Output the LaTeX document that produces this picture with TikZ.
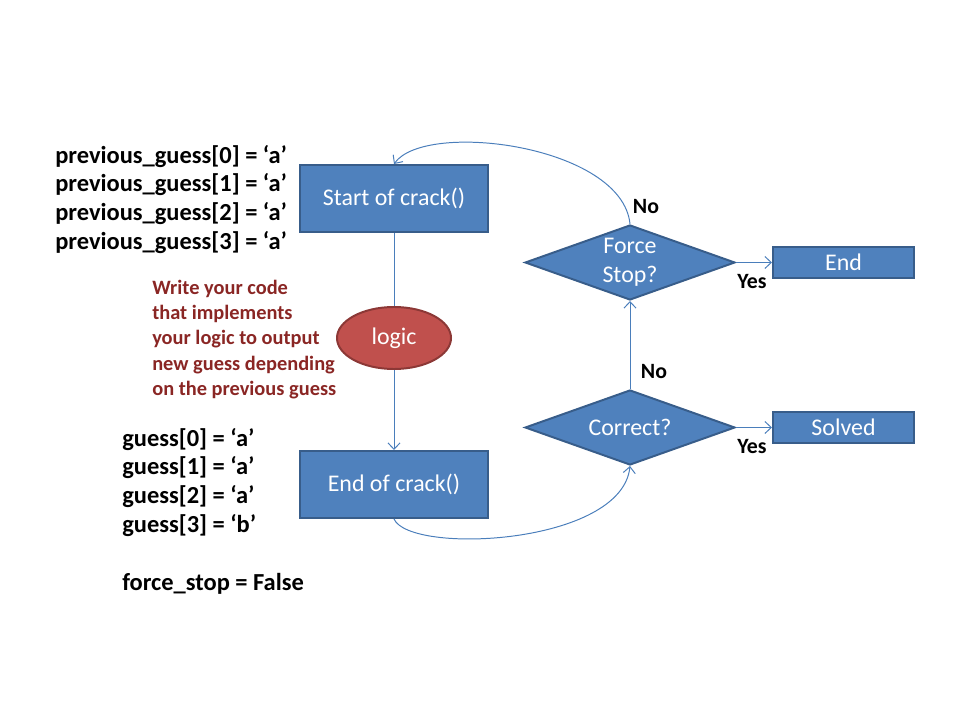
\documentclass[tikz,border=0pt]{standalone}
\usepackage{fontspec}
\setmainfont{Carlito}
\usetikzlibrary{shapes.geometric,arrows.meta}
\definecolor{boxblue}{HTML}{4F81BD}
\definecolor{boxedge}{HTML}{385D8A}
\definecolor{logicred}{HTML}{C0504D}
\definecolor{logicedge}{HTML}{8C3836}
\definecolor{notered}{HTML}{8A2624}
\definecolor{linkblue}{HTML}{4A7EBB}
\tikzset{
	stepbox/.style={draw=boxedge, fill=boxblue, line width=1.4pt, text=white, font=\fontsize{17}{20.6}\selectfont, inner sep=0pt},
	askbox/.style={diamond, draw=boxedge, fill=boxblue, line width=1.4pt, text=white, font=\fontsize{17}{20.6}\selectfont, align=center, inner sep=0pt, aspect=2.8, minimum width=5.25cm, minimum height=1.875cm},
	link/.style={draw=linkblue, line width=0.7pt, >={Straight Barb[length=1.6mm,width=3mm]}},
	answer/.style={font=\bfseries\fontsize{15.5}{18}\selectfont, inner sep=0pt},
	vars/.style={font=\bfseries\fontsize{17.4}{20.6}\selectfont, align=left, anchor=west, inner sep=0pt}
}

\begin{document}
\begin{tikzpicture}[x=0.025cm, y=-0.025cm]
		%%%%% START %%%%%
		\useasboundingbox (0, 0) rectangle (960, 720);
		
		\node[vars] (prevvars) at (55, 199.5) {previous\_guess[0] = ‘a’\\previous\_guess[1] = ‘a’\\previous\_guess[2] = ‘a’\\previous\_guess[3] = ‘a’};
		
		\node[stepbox, minimum width=4.7cm, minimum height=1.675cm] (start) at (394, 198.5) {Start of crack()};
		\node[stepbox, minimum width=4.7cm, minimum height=1.675cm] (finish) at (394, 484.5) {End of crack()};
		\node[ellipse, draw=logicedge, fill=logicred, line width=1.4pt, text=white, font=\fontsize{17}{20.6}\selectfont, inner sep=0pt, minimum width=2.85cm, minimum height=1.55cm] (logic) at (394, 338) {logic};
		
		\node[font=\bfseries\fontsize{14.5}{18}\selectfont, text=notered, align=left, anchor=west, inner sep=0pt] (hint) at (152, 339.5) {Write your code\\that implements\\your logic to output\\new guess depending\\on the previous guess};
		
		\node[vars] (guessvars) at (122, 482.5) {guess[0] = ‘a’\\guess[1] = ‘a’\\guess[2] = ‘a’\\guess[3] = ‘b’};
		\node[vars] (stopvar) at (122, 584) {force\_stop = False};
		
		\node[askbox] (forcestop) at (630, 262.5) {Force\\Stop?};
		\node[askbox] (correct) at (630, 427.5) {Correct?};
		
		\node[stepbox, minimum width=3.525cm, minimum height=0.775cm] (stop) at (843.5, 262.5) {End};
		\node[stepbox, minimum width=3.525cm, minimum height=0.775cm] (solved) at (843.5, 427.5) {Solved};
		
		% connectors
		\draw[link] (start.south) -- (logic.north);
		\draw[link, ->] (logic.south) -- (finish.north);
		\draw[link, ->] (finish.south) .. controls (410, 555) and (622, 545) .. (correct.south);
		\draw[link, ->] (correct.north) -- (forcestop.south);
		\draw[link, ->] (forcestop.north) .. controls (622, 145) and (425, 120) .. (start.north);
		\draw[link, ->] (forcestop.east) -- (stop.west);
		\draw[link, ->] (correct.east) -- (solved.west);
		
		\node[answer] (nostop) at (646, 207) {No};
		\node[answer] (nocorrect) at (654, 372) {No};
		\node[answer] (yesstop) at (752, 282) {Yes};
		\node[answer] (yescorrect) at (752, 447) {Yes};
		
		%%%%% END %%%%%
	\end{tikzpicture}
\end{document}
